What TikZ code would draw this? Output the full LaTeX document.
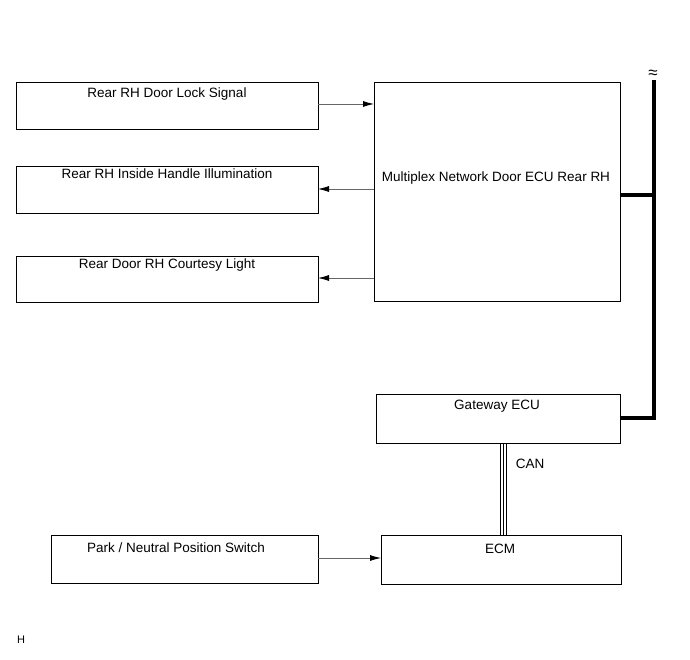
\documentclass[tikz,border=0pt]{standalone}
\usepackage{fontspec}
\setmainfont{Liberation Sans}
\usetikzlibrary{arrows.meta}
\begin{document}
\begin{tikzpicture}[x=1pt,y=-1pt,
  box/.style={draw=black,line width=0.9pt,inner sep=0pt},
  lbl/.style={font=\fontsize{13.5}{15}\selectfont,inner sep=0pt,anchor=center},
  sig/.style={draw=black!60,line width=0.8pt,-{Latex[length=11pt,width=6pt,color=black]}},
  bus/.style={line width=4pt,black}]
\useasboundingbox (0,0) rectangle (690,660);
% boxes
\draw[box] (16,82) rectangle (318,129);
\node[lbl] (tdl) at (167,94) {Rear RH Door Lock Signal};
\draw[box] (16,166) rectangle (318,213);
\node[lbl] (tih) at (167,174) {Rear RH Inside Handle Illumination};
\draw[box] (16,256) rectangle (318,302);
\node[lbl] (tcl) at (167,265) {Rear Door RH Courtesy Light};
\draw[box] (374,82) rectangle (620,301);
\node[lbl] (tmx) at (496,178) {Multiplex Network Door ECU Rear RH};
\draw[box] (376,394) rectangle (620,443);
\node[lbl] (tgw) at (497,406) {Gateway ECU};
\draw[box] (381,535) rectangle (621,584);
\node[lbl] (tecm) at (500,549) {ECM};
\draw[box] (51,535) rectangle (318,583);
\node[lbl] (tpn) at (176,548) {Park / Neutral Position Switch};
% coordinates for connectors
\coordinate (a1s) at (318,104); \coordinate (a1e) at (374,104);
\coordinate (a2s) at (374,189); \coordinate (a2e) at (318,189);
\coordinate (a3s) at (374,278); \coordinate (a3e) at (318,278);
\coordinate (a4s) at (318,558); \coordinate (a4e) at (381,558);
\draw[sig] (a1s) -- (a1e);
\draw[sig] (a2s) -- (a2e);
\draw[sig] (a3s) -- (a3e);
\draw[sig] (a4s) -- (a4e);
% bus
\coordinate (btop) at (654,80);
\coordinate (bm) at (620,195);
\coordinate (bg) at (620,418);
\draw[bus] (btop) -- (654,420);
\draw[bus] (bm) -- (656,195);
\draw[bus] (bg) -- (656,418);
\node[inner sep=0pt,font=\fontsize{17}{18}\selectfont] (wave) at (653,74) {≈};
% CAN triple line
\foreach \xx in {500,503,506}{
  \draw[line width=0.7pt] (\xx,443) -- (\xx,535);
}
\node[lbl] (can) at (530,464) {CAN};
\node[inner sep=0pt,font=\fontsize{11}{12}\selectfont] (h) at (21,640) {H};
\end{tikzpicture}
\end{document}
